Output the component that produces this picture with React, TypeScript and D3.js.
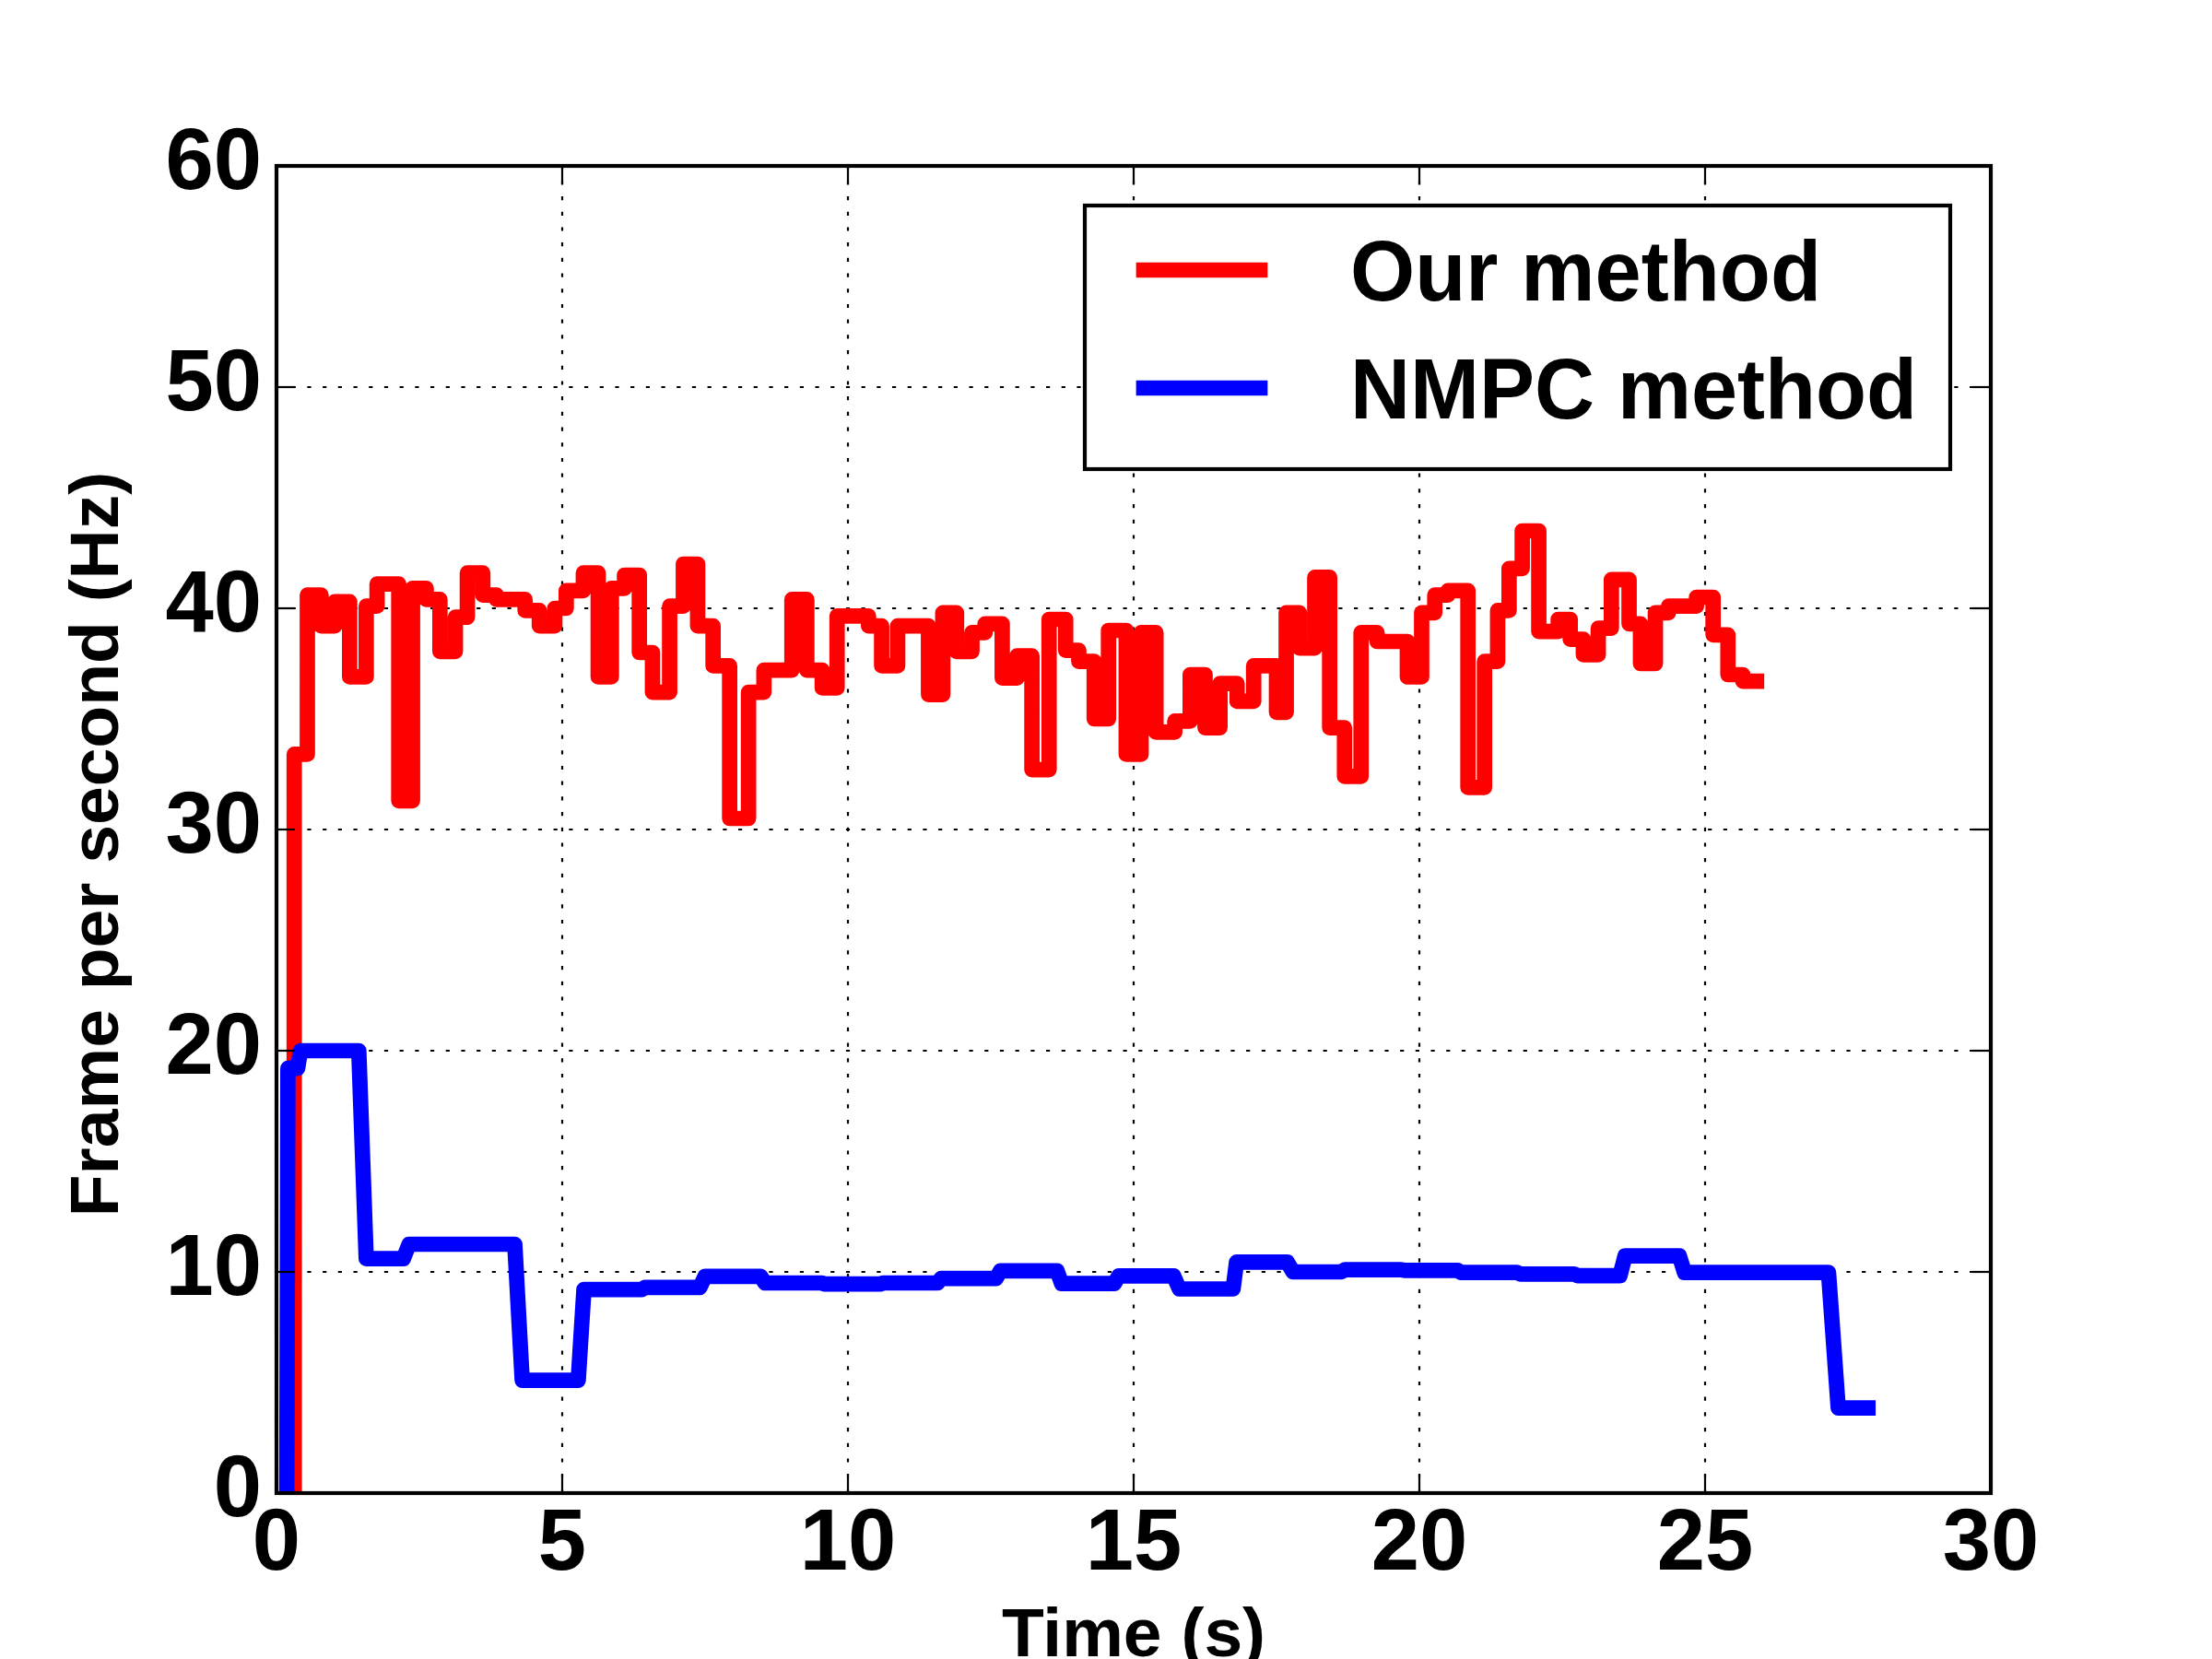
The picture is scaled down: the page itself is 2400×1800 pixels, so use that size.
import React from 'react';
import * as d3 from 'd3';

// Frame rate over time
const ourMethod: [number, number][] = [
  [0.3, 0], [0.31, 33.4], [0.54, 40.6], [0.78, 39.2], [1.02, 40.3], [1.28, 36.9],
  [1.57, 40.1], [1.76, 41.1], [2.14, 31.3], [2.38, 40.9], [2.62, 40.4], [2.86, 38.05],
  [3.13, 39.6], [3.34, 41.6], [3.61, 40.6], [3.85, 40.4], [4.35, 39.9], [4.6, 39.2],
  [4.87, 40.0], [5.07, 40.8], [5.37, 41.6], [5.63, 36.9], [5.86, 40.9], [6.09, 41.5],
  [6.35, 38.0], [6.58, 36.2], [6.88, 40.1], [7.12, 42.0], [7.37, 39.2], [7.64, 37.4],
  [7.93, 30.5], [8.26, 36.2], [8.53, 37.2], [9.02, 40.4], [9.28, 37.2], [9.55, 36.4],
  [9.81, 39.65], [10.36, 39.2], [10.59, 37.4], [10.87, 39.2], [11.41, 36.1], [11.66, 39.8],
  [11.9, 38.05], [12.17, 38.9], [12.4, 39.3], [12.7, 36.85], [12.96, 37.85], [13.22, 32.7],
  [13.52, 39.5], [13.81, 38.1], [14.04, 37.6], [14.31, 35.0], [14.56, 39.0], [14.87, 33.4],
  [15.13, 38.9], [15.39, 34.4], [15.72, 34.9], [15.99, 37.0], [16.25, 34.6], [16.51, 36.6],
  [16.81, 35.8], [17.1, 37.4], [17.5, 35.3], [17.67, 39.8], [17.9, 38.2], [18.17, 41.4],
  [18.43, 34.6], [18.69, 32.4], [18.98, 38.9], [19.26, 38.5], [19.79, 36.9], [20.04, 39.8],
  [20.27, 40.6], [20.5, 40.8], [20.85, 31.9], [21.14, 37.6], [21.37, 39.9], [21.57, 41.8],
  [21.8, 43.5], [22.09, 38.95], [22.43, 39.5], [22.64, 38.6], [22.87, 37.9], [23.13, 39.1],
  [23.36, 41.3], [23.67, 39.3], [23.87, 37.5], [24.13, 39.8], [24.36, 40.1], [24.85, 40.5],
  [25.14, 38.8], [25.4, 37.0], [25.66, 36.7], [25.9, 36.7],
];

const nmpcMethod: [number, number][] = [
  [0.18, 0], [0.2, 19.2], [0.37, 19.2], [0.42, 20.0], [1.44, 20.0], [1.57, 10.6],
  [2.22, 10.6], [2.32, 11.25], [4.17, 11.25], [4.3, 5.1], [5.28, 5.1], [5.38, 9.2],
  [6.39, 9.2], [6.45, 9.3], [7.41, 9.3], [7.5, 9.8], [8.47, 9.8], [8.55, 9.5],
  [9.54, 9.5], [9.6, 9.45], [10.56, 9.45], [10.62, 9.5], [11.57, 9.5], [11.63, 9.7],
  [12.59, 9.7], [12.67, 10.05], [13.66, 10.05], [13.74, 9.47], [14.66, 9.47], [14.74, 9.82],
  [15.7, 9.82], [15.8, 9.23], [16.74, 9.23], [16.8, 10.44], [17.69, 10.44], [17.79, 10.0],
  [18.63, 10.0], [18.7, 10.1], [19.68, 10.1], [19.74, 10.07], [20.67, 10.07], [20.73, 9.97],
  [21.71, 9.97], [21.77, 9.9], [22.71, 9.9], [22.77, 9.83], [23.51, 9.83], [23.6, 10.72],
  [24.55, 10.72], [24.64, 9.97], [27.16, 9.97], [27.33, 3.85], [27.85, 3.85],
];

const xTicks = [0, 5, 10, 15, 20, 25, 30];
const yTicks = [0, 10, 20, 30, 40, 50, 60];
const legendLabels = ['Our method', 'NMPC method'];
const seriesColors = ['#ff0000', '#0000ff'];

const W = 2400;
const H = 1800;
const margin = { left: 300, right: 240, top: 180, bottom: 180 };
const FONT = '"Liberation Sans", Arial, Helvetica, sans-serif';

const App: React.FC = () => {
  const x = d3.scaleLinear().domain([0, 30]).range([margin.left, W - margin.right]);
  const y = d3.scaleLinear().domain([0, 60]).range([H - margin.bottom, margin.top]);

  const [x0, x1] = x.range();
  const [y0, y1] = y.range();

  const stepLine = d3
    .line<[number, number]>()
    .x((d) => x(d[0]))
    .y((d) => y(d[1]))
    .curve(d3.curveStepAfter);
  const plainLine = d3
    .line<[number, number]>()
    .x((d) => x(d[0]))
    .y((d) => y(d[1]));

  const tickLen = 20;

  // legend box
  const lg = { left: 1177, top: 223, right: 2116, bottom: 509 };
  const legendRows = [293, 421];
  const legendTextLen = [511, 615];

  return (
    <svg
      width={W}
      height={H}
      style={{ position: 'absolute', left: 0, top: 0, background: '#fff' }}
      fontFamily={FONT}
      fontWeight="bold"
    >
      <rect x={0} y={0} width={W} height={H} fill="#fff" />
      <defs>
        <clipPath id="plot-area">
          <rect x={x0} y={y1} width={x1 - x0} height={y0 - y1} />
        </clipPath>
      </defs>

      {/* grid */}
      <g stroke="#000" strokeWidth={2.2} strokeDasharray="4.2 12.5">
        {xTicks.slice(1, -1).map((t) => (
          <line key={`gx${t}`} x1={x(t)} x2={x(t)} y1={y0} y2={y1} />
        ))}
        {yTicks.slice(1, -1).map((t) => (
          <line key={`gy${t}`} x1={x0} x2={x1} y1={y(t)} y2={y(t)} />
        ))}
      </g>

      {/* data */}
      <g clipPath="url(#plot-area)" fill="none" strokeWidth={16.7} strokeLinejoin="round" strokeLinecap="square">
        <path d={stepLine(ourMethod) || ''} stroke={seriesColors[0]} />
        <path d={plainLine(nmpcMethod) || ''} stroke={seriesColors[1]} />
      </g>

      {/* ticks, inward on all sides */}
      <g stroke="#000" strokeWidth={2.2}>
        {xTicks.map((t) => (
          <g key={`tx${t}`}>
            <line x1={x(t)} x2={x(t)} y1={y0} y2={y0 - tickLen} />
            <line x1={x(t)} x2={x(t)} y1={y1} y2={y1 + tickLen} />
          </g>
        ))}
        {yTicks.map((t) => (
          <g key={`ty${t}`}>
            <line x1={x0} x2={x0 + tickLen} y1={y(t)} y2={y(t)} />
            <line x1={x1} x2={x1 - tickLen} y1={y(t)} y2={y(t)} />
          </g>
        ))}
      </g>

      {/* frame */}
      <rect x={x0} y={y1} width={x1 - x0} height={y0 - y1} fill="none" stroke="#000" strokeWidth={4.2} />

      {/* tick labels */}
      <g fontSize={94} fill="#000">
        {xTicks.map((t) => (
          <text key={`lx${t}`} x={x(t)} y={y0 + 83} textAnchor="middle">
            {t}
          </text>
        ))}
        {yTicks.map((t) => (
          <text key={`ly${t}`} x={x0 - 16} y={y(t) + 25} textAnchor="end">
            {t}
          </text>
        ))}
      </g>

      {/* axis labels */}
      <text x={(x0 + x1) / 2} y={1797} fontSize={75} textAnchor="middle">
        Time (s)
      </text>
      <text
        transform={`translate(128,916) rotate(-90)`}
        fontSize={75}
        textAnchor="middle"
      >
        Frame per second (Hz)
      </text>

      {/* legend */}
      <rect
        x={lg.left}
        y={lg.top}
        width={lg.right - lg.left}
        height={lg.bottom - lg.top}
        fill="#fff"
        stroke="#000"
        strokeWidth={4.2}
      />
      {legendLabels.map((label, i) => (
        <g key={label}>
          <line
            x1={1241}
            x2={1367}
            y1={legendRows[i]}
            y2={legendRows[i]}
            stroke={seriesColors[i]}
            strokeWidth={16.7}
            strokeLinecap="square"
          />
          <text
            x={1465}
            y={legendRows[i] + 33}
            fontSize={92}
            textLength={legendTextLen[i]}
            lengthAdjust="spacingAndGlyphs"
          >
            {label}
          </text>
        </g>
      ))}
    </svg>
  );
};

export default App;
